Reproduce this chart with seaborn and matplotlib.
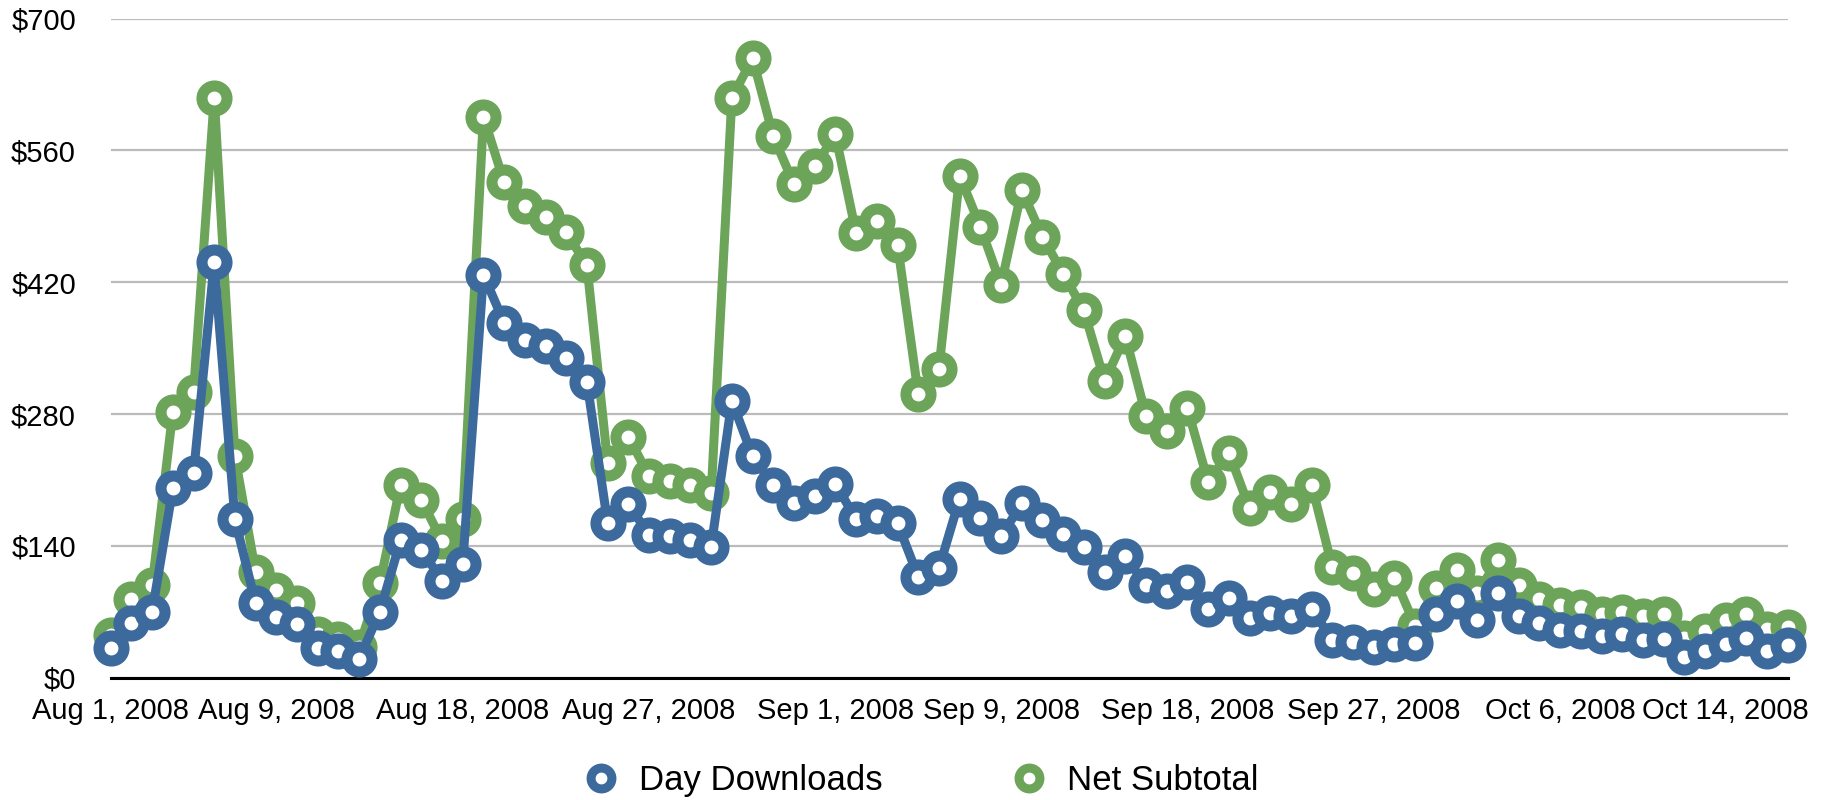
import numpy as np
import pandas as pd
import seaborn as sns
import matplotlib.pyplot as plt
from matplotlib.lines import Line2D


# values, one per day category
day_downloads = [31, 58, 70, 201, 217, 441, 168, 79, 64, 57,
                 31, 28, 20, 70, 146, 136, 103, 121, 428, 377,
                 359, 352, 339, 314, 164, 184, 152, 150, 146, 139,
                 294, 235, 205, 185, 193, 206, 168, 172, 164, 107,
                 116, 190, 170, 150, 185, 167, 153, 139, 112, 129,
                 98, 92, 102, 73, 85, 63, 69, 65, 73, 40,
                 38, 32, 36, 37, 68, 81, 61, 90, 65, 58,
                 51, 49, 44, 46, 40, 41, 22, 28, 36, 42,
                 28, 35]

net_subtotal = [45, 83, 98, 282, 303, 616, 235, 112, 93, 79,
                46, 41, 33, 100, 205, 189, 145, 169, 596, 526,
                501, 489, 473, 438, 228, 256, 214, 209, 205, 196,
                616, 658, 575, 524, 543, 577, 472, 485, 460, 301,
                328, 533, 479, 417, 518, 468, 429, 390, 315, 363,
                278, 262, 286, 208, 239, 180, 197, 184, 205, 117,
                111, 94, 106, 55, 95, 114, 90, 125, 98, 84,
                77, 75, 68, 70, 65, 68, 42, 50, 61, 68,
                52, 54]

tick_idx = [0, 8, 17, 26, 35, 43, 52, 61, 70, 78]
tick_labels = ['Aug 1, 2008', 'Aug 9, 2008', 'Aug 18, 2008', 'Aug 27, 2008',
               'Sep 1, 2008', 'Sep 9, 2008', 'Sep 18, 2008', 'Sep 27, 2008',
               'Oct 6, 2008', 'Oct 14, 2008']
y_ticks = [0, 140, 280, 420, 560, 700]

blue = '#3c6a9d'
green = '#6ca459'

df = pd.DataFrame({'day': np.arange(len(day_downloads)),
                   'downloads': day_downloads,
                   'subtotal': net_subtotal})

sns.set_style('white')
plt.rcParams['font.family'] = ['Liberation Sans', 'DejaVu Sans']
plt.rcParams['text.color'] = 'black'
plt.rcParams['xtick.color'] = 'black'
plt.rcParams['ytick.color'] = 'black'

fig = plt.figure(figsize=(18.33, 8), dpi=100)
ax = fig.add_axes([0.0604, 0.153, 0.915, 0.8237])

style = dict(marker='o', markersize=18, markeredgewidth=8, markerfacecolor='white',
             linewidth=6.5, clip_on=False)
sns.lineplot(data=df, x='day', y='subtotal', ax=ax, color=green, markeredgecolor=green,
             zorder=3, **style)
sns.lineplot(data=df, x='day', y='downloads', ax=ax, color=blue, markeredgecolor=blue,
             zorder=4, **style)

ax.set_xlim(0, len(day_downloads) - 1)
ax.set_ylim(0, 700)
ax.set_yticks(y_ticks)
ax.set_yticklabels(['$' + str(v) for v in y_ticks])
ax.set_xticks(tick_idx)
ax.set_xticklabels(tick_labels)
ax.tick_params(axis='y', length=0, pad=25, labelsize=21, labelcolor='black')
ax.tick_params(axis='x', length=0, pad=14, labelsize=21, labelcolor='black')
ax.set_xlabel('')
ax.set_ylabel('')

ax.yaxis.grid(True, color='#bbbbbb', linewidth=1.6)
ax.set_axisbelow(True)
for side in ['top', 'right', 'left']:
    ax.spines[side].set_visible(False)
ax.spines['bottom'].set_color('black')
ax.spines['bottom'].set_linewidth(2.2)
ax.spines['bottom'].set_zorder(2)

handles = [Line2D([], [], linestyle='none', marker='o', markersize=15, markeredgewidth=6.5,
                  markerfacecolor='white', markeredgecolor=blue),
           Line2D([], [], linestyle='none', marker='o', markersize=15, markeredgewidth=6.5,
                  markerfacecolor='white', markeredgecolor=green)]
leg = fig.legend(handles, ['Day Downloads', 'Net Subtotal'], loc='center',
                 bbox_to_anchor=(0.5025, 0.024), ncol=2, frameon=False, fontsize=25,
                 handletextpad=0.6, columnspacing=3.7, handlelength=1.0)
for t in leg.get_texts():
    t.set_color('black')

fig.savefig('out.png', dpi=100)
